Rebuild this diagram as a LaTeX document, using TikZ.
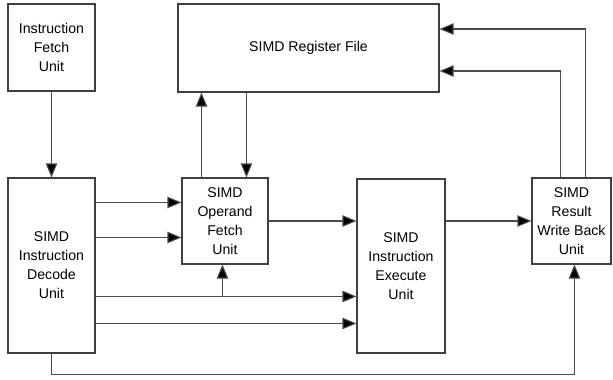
\documentclass[tikz,border=0pt]{standalone}
\usepackage{fontspec}
\setmainfont{Liberation Sans}
\usetikzlibrary{arrows.meta,calc}
\tikzset{
  unit/.style={draw=black!75, line width=0.8pt, rectangle, align=center, inner sep=0pt,
    font=\fontsize{10.6}{14.3}\selectfont},
  arr/.style={draw=black!70, line width=0.8pt, -{Triangle[length=10.5pt,width=8.5pt,fill=black]}},
  wire/.style={draw=black!70, line width=0.8pt}
}
\begin{document}
\begin{tikzpicture}[x=0.75pt,y=-0.75pt]
\useasboundingbox (0,0) rectangle (613,379);
\node[unit, minimum width=87*0.75pt, minimum height=87*0.75pt] (IF) at (51.5,47.5) {Instruction\\Fetch\\Unit};
\node[unit, minimum width=261*0.75pt, minimum height=88*0.75pt] (RF) at (308.5,48) {SIMD Register File};
\node[unit, minimum width=87*0.75pt, minimum height=175*0.75pt] (DEC) at (51.5,265.5) {SIMD\\Instruction\\Decode\\Unit};
\node[unit, minimum width=86*0.75pt, minimum height=86*0.75pt] (OF) at (225,221) {SIMD\\Operand\\Fetch\\Unit};
\node[unit, minimum width=88*0.75pt, minimum height=174*0.75pt] (EX) at (401,266) {SIMD\\Instruction\\Execute\\Unit};
\node[unit, minimum width=79*0.75pt, minimum height=86*0.75pt] (WB) at (571.5,221) {SIMD\\Result\\Write Back\\Unit};

% fetch -> decode
\draw[arr] (IF.south) -- (DEC.north);
% operand fetch <-> register file
\coordinate (ofup) at ($(OF.north west)+(20,0)$);
\coordinate (ofdn) at ($(OF.north west)+(65,0)$);
\draw[arr] (ofup) -- (ofup |- RF.south);
\draw[arr] (ofdn |- RF.south) -- (ofdn);
% decode -> operand fetch
\coordinate (d1) at ($(DEC.north east)+(0,25)$);
\coordinate (d2) at ($(DEC.north east)+(0,60)$);
\draw[arr] (d1) -- (d1 -| OF.west);
\draw[arr] (d2) -- (d2 -| OF.west);
% decode -> execute
\coordinate (d3) at ($(DEC.north east)+(0,119)$);
\coordinate (d4) at ($(DEC.north east)+(0,146)$);
\coordinate (br) at ($(OF.south west)+(41,0)$);
\draw[arr] (d3) -- (d3 -| EX.west);
\draw[arr] (br |- d3) -- (br);
\draw[arr] (d4) -- (d4 -| EX.west);
% operand fetch -> execute -> write back
\draw[arr] (OF.east) -- (OF.east -| EX.west);
\draw[arr] (OF.east -| EX.east) -- (OF.east -| WB.west);
% decode -> write back (bottom bypass)
\coordinate (wbin) at ($(WB.south west)+(43,0)$);
\draw[arr] (DEC.south) -- ++(0,21) -| (wbin);
% write back -> register file
\coordinate (w1) at ($(WB.north west)+(29,0)$);
\coordinate (w2) at ($(WB.north west)+(54,0)$);
\coordinate (r1) at ($(RF.east)+(0,23)$);
\coordinate (r2) at ($(RF.east)+(0,-19)$);
\draw[arr] (w1) |- (r1);
\draw[arr] (w2) |- (r2);
\end{tikzpicture}
\end{document}
